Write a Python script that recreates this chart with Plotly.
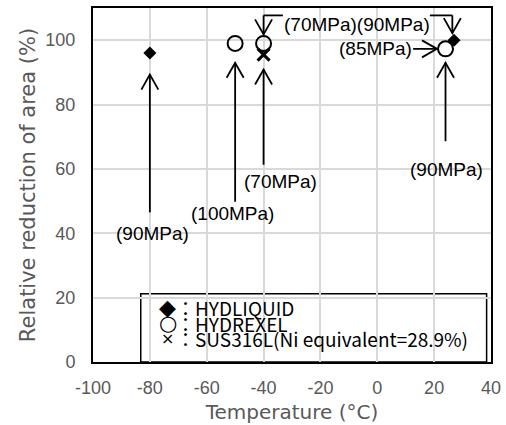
import math
import plotly.graph_objects as go

# ---- data ----
hydliquid_temp = [-80, 27]
hydliquid_ra = [96, 100]
hydrexel_temp = [-50, -40, 24]
hydrexel_ra = [99, 99, 97.3]
sus_temp = [-40]
sus_ra = [95.5]

x_ticks = [-100, -80, -60, -40, -20, 0, 20, 40]
x_ticktext = ["-100", "-80", "-60", "-40", "-20", "0", "20", "40"]
y_ticks = [0, 20, 40, 60, 80, 100]

# pressure labels (text, x, y) in data units
labels = ["(90MPa)", "(100MPa)", "(70MPa)", "(90MPa)", "(85MPa)", "(70MPa)(90MPa)"]
label_x = [-79, -50.8, -34.2, 24.5, -0.5, -7.3]
label_y = [39.8, 46, 56, 59.8, 97.4, 104.9]

# arrows: tail (ax, ay) -> tip (x, y)
arrow_tail_x = [-80, -50, -40, 24, 12.6, -40, 26.4]
arrow_tail_y = [46.5, 49.8, 61.3, 68.6, 97.3, 107.7, 107.7]
arrow_tip_x = [-80, -50, -40, 24, 21, -40, 26.4]
arrow_tip_y = [89.3, 93, 90.9, 93, 97.3, 101.8, 102.2]

# bracket horizontal segments (x0, x1, y)
bracket_x0 = [-40, 18.5]
bracket_x1 = [-33.2, 26.4]
bracket_y = [107.7, 107.7]

legend_symbols = ["◆", "○", "×"]
legend_symbol_sizes = [22, 21, 16]
legend_names = ["：HYDLIQUID", "：HYDREXEL", "：SUS316L(Ni equivalent=28.9%)"]

FONT = "Liberation Sans, Arial, sans-serif"
TFONT = "DejaVu Sans, sans-serif"
GRAY = "#595959"

X_RANGE = [-100, 40]
Y_RANGE = [0, 110]
W, H = 506, 425
ML, MR, MT, MB = 93, 15, 8, 63
SX = (W - ML - MR) / (X_RANGE[1] - X_RANGE[0])   # px per x unit
SY = (H - MT - MB) / (Y_RANGE[1] - Y_RANGE[0])   # px per y unit

fig = go.Figure()
fig.add_trace(go.Scatter(x=hydliquid_temp, y=hydliquid_ra, mode="markers",
                         marker=dict(symbol="diamond", size=10, color="black"),
                         showlegend=False, cliponaxis=False))
fig.add_trace(go.Scatter(x=hydrexel_temp, y=hydrexel_ra, mode="markers",
                         marker=dict(symbol="circle-open", size=15, color="black",
                                     line=dict(width=2, color="black")),
                         showlegend=False, cliponaxis=False))
fig.add_trace(go.Scatter(x=sus_temp, y=sus_ra, mode="markers",
                         marker=dict(symbol="x-thin-open", size=12, color="black",
                                     line=dict(width=3, color="black")),
                         showlegend=False, cliponaxis=False))

annotations = []
for t, x, y in zip(labels, label_x, label_y):
    annotations.append(dict(text=t, x=x, y=y, xref="x", yref="y", showarrow=False,
                            font=dict(family=FONT, size=19, color="black"),
                            xanchor="center", yanchor="middle"))

shapes = []
HEAD_L, HEAD_W = 15, 8.5
for ax, ay, x, y in zip(arrow_tail_x, arrow_tail_y, arrow_tip_x, arrow_tip_y):
    shapes.append(dict(type="line", xref="x", yref="y", x0=ax, y0=ay, x1=x, y1=y,
                       line=dict(color="black", width=1.8)))
    dxp, dyp = (x - ax) * SX, (y - ay) * SY
    n = math.hypot(dxp, dyp)
    ux, uy = dxp / n, dyp / n
    px_, py_ = -uy, ux
    w1x = x + (-HEAD_L * ux + HEAD_W * px_) / SX
    w1y = y + (-HEAD_L * uy + HEAD_W * py_) / SY
    w2x = x + (-HEAD_L * ux - HEAD_W * px_) / SX
    w2y = y + (-HEAD_L * uy - HEAD_W * py_) / SY
    shapes.append(dict(type="path", xref="x", yref="y",
                       path=f"M {w1x},{w1y} L {x},{y} L {w2x},{w2y}",
                       line=dict(color="black", width=1.8)))

# legend (manual)
leg_row_y = [0.155, 0.1095, 0.066]
for s, ss, nm, yy in zip(legend_symbols, legend_symbol_sizes, legend_names, leg_row_y):
    annotations.append(dict(text=s, x=0.188, y=yy, xref="paper", yref="paper",
                            showarrow=False, xanchor="center", yanchor="middle",
                            font=dict(family="DejaVu Sans", size=ss, color="black")))
    annotations.append(dict(text=nm, x=0.203, y=yy, xref="paper", yref="paper",
                            showarrow=False, xanchor="left", yanchor="middle",
                            font=dict(family="Noto Sans CJK JP, " + FONT, size=19, color="black")))

for x0, x1, y in zip(bracket_x0, bracket_x1, bracket_y):
    shapes.append(dict(type="line", xref="x", yref="y", x0=x0, x1=x1, y0=y, y1=y,
                       line=dict(color="black", width=1.8)))
shapes.append(dict(type="rect", xref="paper", yref="paper", x0=0.12, x1=0.989,
                   y0=0, y1=0.193, line=dict(color="black", width=1.5),
                   fillcolor="white", layer="below"))

fig.update_layout(
    width=W, height=H,
    margin=dict(l=ML, r=MR, t=MT, b=MB, autoexpand=False),
    paper_bgcolor="white", plot_bgcolor="white",
    annotations=annotations, shapes=shapes,
    xaxis=dict(range=X_RANGE, tickvals=x_ticks, ticktext=x_ticktext, showgrid=True,
               gridcolor="#d9d9d9", gridwidth=1.5, zeroline=False, showline=True,
               linecolor="black", linewidth=2, mirror=True, ticks="", ticklabelstandoff=8,
               automargin=False,
               tickfont=dict(family=FONT, size=18, color=GRAY),
               title=dict(text="Temperature (°C)", standoff=8,
                          font=dict(family=TFONT, size=20, color=GRAY))),
    yaxis=dict(range=Y_RANGE, tickvals=y_ticks, showgrid=True, gridcolor="#d9d9d9",
               gridwidth=1.5, zeroline=False, showline=True, linecolor="black",
               linewidth=2, mirror=True, ticks="", ticklabelstandoff=12,
               automargin=False,
               tickfont=dict(family=FONT, size=18, color=GRAY),
               title=dict(text="Relative reduction of area (%)", standoff=4,
                          font=dict(family=TFONT, size=21, color=GRAY))),
)

fig.write_html("out.html", config={"displayModeBar": False},
               post_script="document.body.style.margin='0';")
